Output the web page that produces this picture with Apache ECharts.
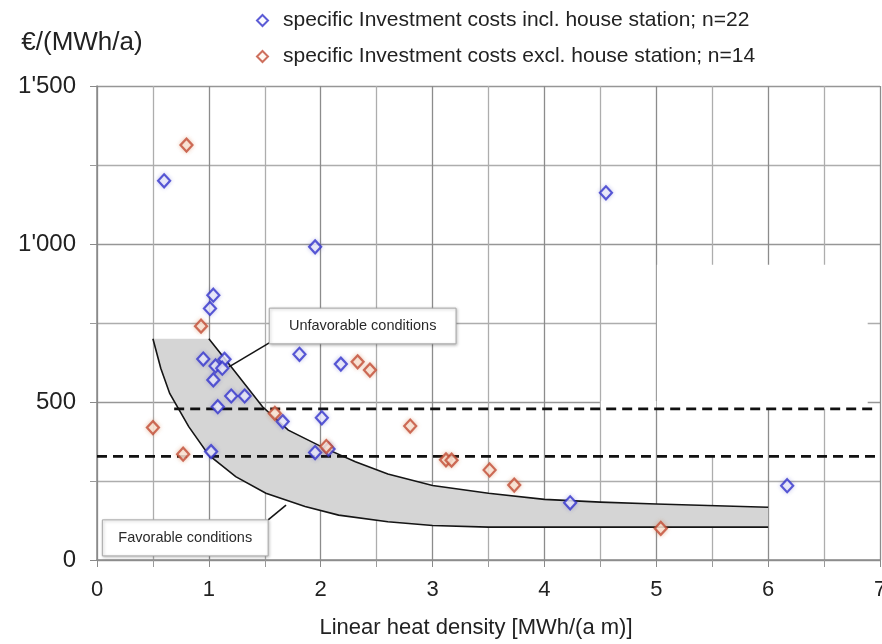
<!DOCTYPE html>
<html>
<head>
<meta charset="utf-8">
<script src="https://cdn.jsdelivr.net/npm/echarts@6/dist/echarts.min.js"></script>
<style>
  html, body { margin: 0; padding: 0; background: #fff; }
  #chart { width: 882px; height: 644px; }
</style>
</head>
<body>
<div id="chart"></div>
<script>
// Specific investment costs of district heating networks vs. linear heat density

// [linear heat density MWh/(a m), €/(MWh/a)]
const inclHouseStation = [
  [0.60, 1200], [1.95, 991], [4.55, 1162], [1.04, 838], [1.01, 796],
  [0.95, 636], [1.06, 614], [1.14, 635], [1.12, 607], [1.04, 570],
  [1.20, 519], [1.32, 519], [1.08, 485], [1.81, 651], [2.18, 620],
  [1.66, 438], [2.01, 450], [1.02, 343], [1.95, 340], [2.07, 351],
  [4.23, 181], [6.17, 235]
];
const exclHouseStation = [
  [0.80, 1313], [0.93, 740], [2.33, 627], [2.44, 601], [1.59, 464],
  [0.50, 419], [0.77, 335], [2.05, 359], [2.80, 424], [3.12, 317],
  [3.17, 316], [3.51, 285], [3.73, 237], [5.04, 100]
];

// Band of typical costs: upper and lower boundary
const bandUpper = [
  [0.50, 700], [1.00, 700], [1.21, 607], [1.48, 485], [1.71, 411],
  [2.01, 358], [2.31, 311], [2.60, 272], [3.00, 236], [3.50, 211],
  [4.00, 192], [4.50, 183], [5.00, 177], [6.00, 167]
];
const bandLower = [
  [0.50, 700], [0.57, 607], [0.65, 527], [0.82, 422], [1.00, 332],
  [1.24, 264], [1.51, 211], [1.86, 169], [2.16, 142], [2.60, 121],
  [3.00, 109], [3.50, 104], [6.00, 104]
];

// Cost thresholds (dashed)
const thresholdUpper = [[0.69, 478], [6.93, 478]];
const thresholdLower = [[0.00, 328], [7.00, 328]];

const seriesNames = [
  'specific Investment costs incl. house station; n=22',
  'specific Investment costs excl. house station; n=14'
];

const FONT = 'Liberation Sans, Arial, Helvetica, sans-serif';

// Annotation callouts, in data coordinates
const callouts = [
  { text: 'Unfavorable conditions', x0: 1.54, y0: 797, x1: 3.21, y1: 684,
    from: [1.54, 687], to: [1.18, 611] },
  { text: 'Favorable conditions', x0: 0.048, y0: 127, x1: 1.53, y1: 13,
    from: [1.53, 127], to: [1.69, 174] }
];

// Blank panel over part of the grid (upper right)
const blankPanels = [
  [5.005, 934, 6.89, 478],
  [4.505, 503, 5.0, 478],
  [5.47, 478, 5.53, 330]
];

function fmtThousands(v) {
  const s = String(Math.round(v));
  return s.length > 3 ? s.slice(0, s.length - 3) + "'" + s.slice(-3) : s;
}

const chart = echarts.init(document.getElementById('chart'), null, { renderer: 'canvas' });

const option = {
  animation: false,
  backgroundColor: '#fff',
  textStyle: { fontFamily: FONT },
  grid: { left: 97, top: 86, width: 783, height: 474, containLabel: false, outerBoundsMode: 'none' },
  legend: {
    data: seriesNames,
    orient: 'vertical',
    left: 251,
    top: 5,
    itemWidth: 11,
    itemHeight: 11,
    itemGap: 15,
    textStyle: { fontFamily: FONT, fontSize: 21, color: '#222', padding: [0, 0, 0, 10] }
  },
  xAxis: {
    type: 'value',
    min: 0, max: 7, interval: 1,
    name: 'Linear heat density [MWh/(a m)]',
    nameLocation: 'middle',
    nameGap: 57,
    nameTextStyle: { fontFamily: FONT, fontSize: 22, color: '#222', padding: [0, 25, 0, 0] },
    axisLine: { show: true, lineStyle: { color: '#8a8a8a', width: 1.5 } },
    axisTick: { show: true, length: 7, lineStyle: { color: '#8a8a8a' } },
    minorTick: { show: true, splitNumber: 2, length: 7, lineStyle: { color: '#9a9a9a' } },
    axisLabel: { fontFamily: FONT, fontSize: 22, color: '#222', margin: 19 },
    splitLine: { show: true, lineStyle: { color: '#8c8c8c', width: 1.3 } },
    minorSplitLine: { show: true, lineStyle: { color: '#adadad', width: 1.3 } }
  },
  yAxis: {
    type: 'value',
    min: 0, max: 1500, interval: 500,
    name: '€/(MWh/a)',
    nameLocation: 'end',
    nameGap: 30,
    nameTextStyle: { fontFamily: FONT, fontSize: 26, color: '#222', align: 'center', padding: [0, 30, 0, 0] },
    axisLine: { show: true, lineStyle: { color: '#8a8a8a', width: 1.5 } },
    axisTick: { show: true, length: 7, lineStyle: { color: '#8a8a8a' } },
    minorTick: { show: true, splitNumber: 2, length: 7, lineStyle: { color: '#9a9a9a' } },
    axisLabel: { fontFamily: FONT, fontSize: 24, color: '#222', margin: 21, formatter: fmtThousands },
    splitLine: { show: true, lineStyle: { color: '#969696', width: 1.3 } },
    minorSplitLine: { show: true, lineStyle: { color: '#adadad', width: 1.3 } }
  },
  series: [
    {
      // blank panel
      type: 'custom',
      z: 1,
      silent: true,
      data: [[0, 0]],
      renderItem: function (params, api) {
        return {
          type: 'group',
          children: blankPanels.map(function (r) {
            const a = api.coord([r[0], r[1]]);
            const b = api.coord([r[2], r[3]]);
            return { type: 'rect', shape: { x: a[0], y: a[1], width: b[0] - a[0], height: b[1] - a[1] },
                     style: { fill: '#fff' } };
          })
        };
      }
    },
    {
      // cost band
      type: 'custom',
      z: 2,
      silent: true,
      data: [[0, 0]],
      renderItem: function (params, api) {
        const up = bandUpper.map(function (p) { return api.coord(p); });
        const lo = bandLower.map(function (p) { return api.coord(p); });
        return {
          type: 'group',
          children: [
            { type: 'polygon', shape: { points: up.concat(lo.slice().reverse()) },
              style: { fill: '#d5d5d5' } },
            { type: 'polyline', shape: { points: up.slice(1) },
              style: { stroke: '#151515', lineWidth: 1.6, fill: null } },
            { type: 'polyline', shape: { points: lo },
              style: { stroke: '#151515', lineWidth: 1.6, fill: null } }
          ]
        };
      }
    },
    {
      type: 'line', z: 3, silent: true, symbol: 'none',
      data: thresholdUpper,
      lineStyle: { color: '#111', width: 2.7, type: [10, 6] }
    },
    {
      type: 'line', z: 3, silent: true, symbol: 'none',
      data: thresholdLower,
      lineStyle: { color: '#111', width: 2.7, type: [10, 6] }
    },
    {
      // callout boxes with leader lines
      type: 'custom',
      z: 4,
      silent: true,
      data: [[0, 0]],
      renderItem: function (params, api) {
        const kids = [];
        callouts.forEach(function (c) {
          const a = api.coord([c.x0, c.y0]);
          const b = api.coord([c.x1, c.y1]);
          const f = api.coord(c.from);
          const t = api.coord(c.to);
          kids.push({ type: 'line', shape: { x1: f[0], y1: f[1], x2: t[0], y2: t[1] },
                      style: { stroke: '#151515', lineWidth: 1.6 } });
          kids.push({ type: 'rect', shape: { x: a[0], y: a[1], width: b[0] - a[0], height: b[1] - a[1] },
                      style: { fill: '#fff', stroke: '#a8a8a8', lineWidth: 1,
                               shadowBlur: 3, shadowOffsetX: 1, shadowOffsetY: 1, shadowColor: 'rgba(0,0,0,0.25)' } });
          kids.push({ type: 'text', x: (a[0] + b[0]) / 2, y: (a[1] + b[1]) / 2,
                      style: { text: c.text, fill: '#2a2a2a', font: '14.5px ' + FONT,
                               align: 'center', verticalAlign: 'middle' } });
        });
        return { type: 'group', children: kids };
      }
    },
    {
      name: seriesNames[0],
      type: 'scatter',
      z: 5,
      symbol: 'diamond',
      symbolSize: [12, 13],
      data: inclHouseStation,
      itemStyle: { color: '#fbfbff', borderColor: '#3333cc', borderWidth: 2.2,
                   shadowBlur: 4, shadowColor: 'rgba(90,90,200,0.35)' }
    },
    {
      name: seriesNames[1],
      type: 'scatter',
      z: 5,
      symbol: 'diamond',
      symbolSize: [12, 13],
      data: exclHouseStation,
      itemStyle: { color: '#fff6ee', borderColor: '#c24c36', borderWidth: 2.2,
                   shadowBlur: 4, shadowColor: 'rgba(210,120,70,0.45)' }
    }
  ]
};

chart.setOption(option);
</script>
</body>
</html>
